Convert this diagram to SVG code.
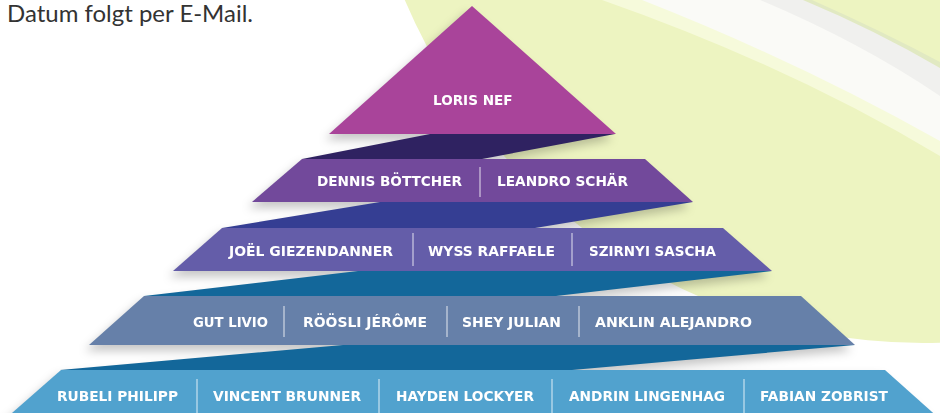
<svg xmlns="http://www.w3.org/2000/svg" width="940" height="413" viewBox="0 0 940 413">
<defs>
<style>
.lbl{font-family:"DejaVu Sans","Liberation Sans",sans-serif;font-weight:bold;font-size:14px;fill:#ffffff;}
.sep{stroke:#ffffff;stroke-opacity:0.55;stroke-width:1.5;}
.sh{fill:#000000;opacity:0.22;}
</style>
<filter id="blur" x="-20%" y="-50%" width="140%" height="200%">
<feGaussianBlur stdDeviation="5"/>
</filter>
</defs>
<rect width="940" height="413" fill="#ffffff"/>
<g id="background">
<circle cx="923" cy="-220" r="563" fill="#EDF4C1"/>
<path d="M602,0 Q790,66 940,156 L940,0 Z" fill="#F6FADB"/>
<path d="M642,0 Q800,62 940,141 L940,0 Z" fill="#FAFAF7"/>
<path d="M760,0 Q860,42 940,96 L940,0 Z" fill="#F0F0EE"/>
<path d="M803,0 Q875,30 940,68 L940,0 Z" fill="#E1E9C2"/>
<path d="M812,0 Q882,31 940,62 L940,0 Z" fill="#EDF4C1"/>
</g>
<text x="7" y="22" font-family="Lato,'Liberation Sans',sans-serif" font-size="23" fill="#333333" textLength="246" lengthAdjust="spacingAndGlyphs">Datum folgt per E-Mail.</text>
<g id="shadows" filter="url(#blur)" transform="translate(-4,6)">
<polygon class="sh" points="472,6 616,134 329,134"/>
<polygon class="sh" points="302,159 430,134 615,134 482,159"/>
<polygon class="sh" points="302,159 645,159 693,202 252,202"/>
<polygon class="sh" points="222,228 380,202 693,202 535,228"/>
<polygon class="sh" points="222,228 723,228 772,271 173,271"/>
<polygon class="sh" points="144,296 358,271 772,271 556,296"/>
<polygon class="sh" points="144,296 801,296 855,345 89,345"/>
<polygon class="sh" points="60,370 343,345 855,345 572,370"/>
<polygon class="sh" points="61,370 885,370 941,420 4,420"/>
</g>
<g id="connectors">
<polygon id="fold1" points="302,159 430,134 615,134 482,159" fill="#2F2261"/>
<polygon id="fold2" points="222,228 380,202 693,202 535,228" fill="#353E93"/>
<polygon id="fold3" points="144,296 358,271 772,271 556,296" fill="#13679A"/>
<polygon id="fold4" points="60,370 343,345 855,345 572,370" fill="#13679A"/>
</g>
<g id="level1">
<polygon points="472,6 616,134 329,134" fill="#A9449A"/>
<text class="lbl" x="433" y="105" textLength="79.5" lengthAdjust="spacingAndGlyphs">LORIS NEF</text>
</g>
<g id="level2">
<polygon points="302,159 645,159 693,202 252,202" fill="#72499B"/>
<text class="lbl" x="317" y="186" textLength="145" lengthAdjust="spacingAndGlyphs">DENNIS BÖTTCHER</text>
<line class="sep" x1="480" y1="167" x2="480" y2="197"/>
<text class="lbl" x="497" y="186" textLength="131" lengthAdjust="spacingAndGlyphs">LEANDRO SCHÄR</text>
</g>
<g id="level3">
<polygon points="222,228 723,228 772,271 173,271" fill="#645DA9"/>
<text class="lbl" x="229" y="256" textLength="164" lengthAdjust="spacingAndGlyphs">JOËL GIEZENDANNER</text>
<line class="sep" x1="413" y1="233" x2="413" y2="266"/>
<text class="lbl" x="428" y="256" textLength="127" lengthAdjust="spacingAndGlyphs">WYSS RAFFAELE</text>
<line class="sep" x1="572" y1="233" x2="572" y2="266"/>
<text class="lbl" x="589" y="256" textLength="127" lengthAdjust="spacingAndGlyphs">SZIRNYI SASCHA</text>
</g>
<g id="level4">
<polygon points="144,296 801,296 855,345 89,345" fill="#6680A9"/>
<text class="lbl" x="193" y="327" textLength="75" lengthAdjust="spacingAndGlyphs">GUT LIVIO</text>
<line class="sep" x1="284" y1="306" x2="284" y2="337"/>
<text class="lbl" x="303" y="327" textLength="124" lengthAdjust="spacingAndGlyphs">RÖÖSLI JÉRÔME</text>
<line class="sep" x1="447" y1="306" x2="447" y2="337"/>
<text class="lbl" x="462" y="327" textLength="99" lengthAdjust="spacingAndGlyphs">SHEY JULIAN</text>
<line class="sep" x1="579" y1="306" x2="579" y2="337"/>
<text class="lbl" x="595" y="327" textLength="157" lengthAdjust="spacingAndGlyphs">ANKLIN ALEJANDRO</text>
</g>
<g id="level5">
<polygon points="61,370 885,370 941,420 4,420" fill="#51A2CE"/>
<text class="lbl" x="57" y="401" textLength="121" lengthAdjust="spacingAndGlyphs">RUBELI PHILIPP</text>
<line class="sep" x1="197" y1="379" x2="197" y2="413"/>
<text class="lbl" x="213" y="401" textLength="148" lengthAdjust="spacingAndGlyphs">VINCENT BRUNNER</text>
<line class="sep" x1="379" y1="379" x2="379" y2="413"/>
<text class="lbl" x="396" y="401" textLength="138" lengthAdjust="spacingAndGlyphs">HAYDEN LOCKYER</text>
<line class="sep" x1="552" y1="379" x2="552" y2="413"/>
<text class="lbl" x="569" y="401" textLength="156" lengthAdjust="spacingAndGlyphs">ANDRIN LINGENHAG</text>
<line class="sep" x1="744" y1="379" x2="744" y2="413"/>
<text class="lbl" x="760" y="401" textLength="128" lengthAdjust="spacingAndGlyphs">FABIAN ZOBRIST</text>
</g>
</svg>
